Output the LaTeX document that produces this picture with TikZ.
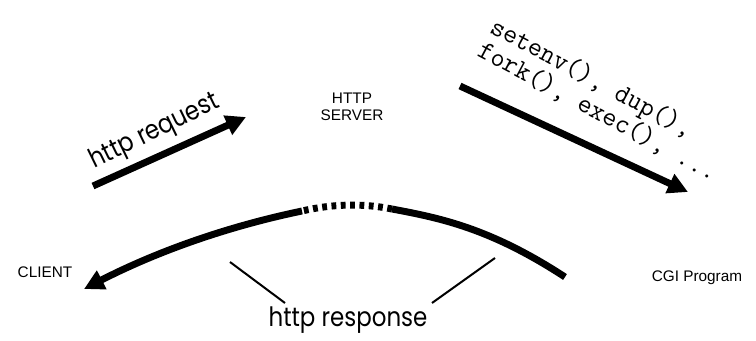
\documentclass[tikz,border=0pt]{standalone}
\usepackage{fontspec}
\setmainfont{Liberation Sans}
\newfontfamily\geofont[FakeStretch=0.86]{Poppins}
\usetikzlibrary{arrows.meta}
\tikzset{
  fatarr/.style={-{Triangle[length=15pt,width=15pt]}, line width=5.2pt},
  fatline/.style={line width=5.2pt},
  dotline/.style={line width=5.2pt, dash pattern=on 3.6pt off 3.4pt},
  thinline/.style={line width=1.5pt},
  plainlabel/.style={font=\fontsize{11.5}{13}\selectfont, align=center},
  biglabel/.style={font=\geofont\fontsize{20}{22}\selectfont},
  codelabel/.style={font=\ttfamily\fontsize{20.5}{20}\selectfont, align=left, inner sep=0pt}
}
\begin{document}
\begin{tikzpicture}[x=0.75pt,y=-0.75pt]
  \useasboundingbox (0,0) rectangle (756,340);
  % end points of the arrows
  \coordinate (reqtail) at (93,186);
  \coordinate (reqtip) at (246,117);
  \coordinate (cgitail) at (460,86);
  \coordinate (cgitip) at (688,192);
  \coordinate (resptail) at (565,277);
  \coordinate (dotright) at (392,209);
  \coordinate (dotleft) at (302,211);
  \coordinate (resptip) at (84,289);
  \coordinate (lpin) at (230,262);
  \coordinate (lfoot) at (285,303);
  \coordinate (rpin) at (495,258);
  \coordinate (rfoot) at (432,303);
  % labels
  \node[plainlabel] (client) at (45,272) {CLIENT};
  \node[plainlabel] (cgi) at (697,278) {CGI Program};
  \node[plainlabel] (server) at (352,107) {HTTP\\SERVER};
  \node[biglabel, rotate=26] (reqlabel) at (155,132) {http request};
  \node[biglabel] (resplabel) at (348,320) {http response};
  \node[codelabel, rotate=-28] (calls) at (604,100) {setenv(), dup(),\\fork(), exec(), ...};
  % arrows
  \draw[fatarr] (reqtail) -- (reqtip);
  \draw[fatarr] (cgitail) -- (cgitip);
  \draw[fatline] (resptail) .. controls (490,228) and (440,218) .. (dotright);
  \draw[dotline] (dotright) .. controls (362,203) and (332,204) .. (dotleft);
  \draw[fatarr] (dotleft) .. controls (220,228) and (150,255) .. (resptip);
  \draw[thinline] (lpin) -- (lfoot);
  \draw[thinline] (rpin) -- (rfoot);
\end{tikzpicture}
\end{document}
